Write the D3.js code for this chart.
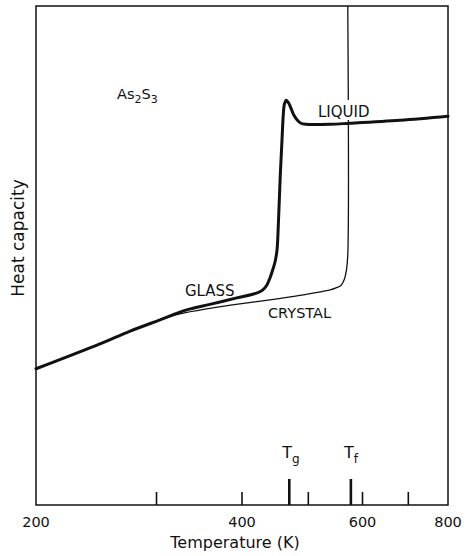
<!DOCTYPE html>
<html><head><meta charset="utf-8">
<script src="https://cdn.jsdelivr.net/npm/d3@7"></script>
<style>
body{margin:0;background:#fff}
svg{display:block}
text{font-family:"DejaVu Sans",sans-serif;fill:#111}
</style>
</head><body>
<svg id="c" width="467" height="556"></svg>
<script>
// Temperature (K), log axis
const xDomain = [200, 800];
const minorTicks = [300, 400, 500, 600, 700];
const tickLabels = [200, 400, 600, 800];
const markers = [{sub: "g", T: 469}, {sub: "f", T: 577}];

// Heat capacity (arbitrary units, 0-100)
const glassT  = [200, 248, 274, 303.5, 332, 359, 393, 421, 429, 435, 439.5, 442.5, 447, 450, 452, 455, 457.6, 459.6, 461.5, 464.3, 467.7, 471.7, 476.4, 482, 487.8, 496, 538, 575, 681, 800];
const glassCp = [27.3, 32.3, 34.8, 37.1, 39.1, 40.2, 41.5, 42.5, 43.1, 44.1, 45.5, 46.7, 48.7, 51.1, 56.1, 66.1, 73.1, 78.2, 80.4, 81.1, 80.6, 79.5, 78.1, 77.1, 76.5, 76.3, 76.3, 76.5, 77.1, 77.9];

const crystalT  = [200, 248, 274, 303.5, 324.7, 359, 397, 439.5, 486, 538, 548.8, 558, 564.7, 568.5, 571, 571];
const crystalCp = [27.3, 32.3, 34.8, 37.1, 38.3, 39.4, 40.3, 41.1, 42.0, 43.1, 43.5, 44.0, 45.3, 47.1, 50.1, 100];

const svg = d3.select("#c");
const L = 36, R = 448, T = 6, B = 505;
const x = d3.scaleLog().domain(xDomain).range([L, R]);
const y = d3.scaleLinear().domain([0, 100]).range([B, T]);

const line = d3.line().x(d => x(d[0])).y(d => y(d[1])).curve(d3.curveCatmullRom.alpha(0.5));

// frame
svg.append("rect").attr("x", L).attr("y", T).attr("width", R - L).attr("height", B - T)
  .attr("fill", "none").attr("stroke", "#111").attr("stroke-width", 1.5);

// minor ticks (inward)
svg.selectAll(".mt").data(minorTicks).join("line")
  .attr("x1", d => x(d)).attr("x2", d => x(d))
  .attr("y1", B).attr("y2", B - 13)
  .attr("stroke", "#111").attr("stroke-width", 1.6);

// tick labels
svg.selectAll(".tl").data(tickLabels).join("text")
  .attr("x", d => x(d)).attr("y", 527)
  .attr("text-anchor", "middle").attr("font-size", 14.5)
  .text(d => d);

// Tg / Tf markers
svg.selectAll(".mk").data(markers).join("line")
  .attr("x1", d => x(d.T)).attr("x2", d => x(d.T))
  .attr("y1", B).attr("y2", B - 26)
  .attr("stroke", "#111").attr("stroke-width", 2.6);
const mt = svg.selectAll(".mkt").data(markers).join("text")
  .attr("x", d => x(d.T) - 7).attr("y", 458).attr("font-size", 16);
mt.append("tspan").text("T");
mt.append("tspan").attr("dy", 5).attr("font-size", 12).text(d => d.sub);

// crystal curve (thin)
svg.append("path").datum(crystalT.map((t, i) => [t, crystalCp[i]]))
  .attr("d", line).attr("fill", "none").attr("stroke", "#111").attr("stroke-width", 1.3);

// LIQUID label with white knock-out
const liq = svg.append("text").attr("x", 318).attr("y", 117).attr("font-size", 15).text("LIQUID");
const bb = liq.node().getBBox();
svg.insert("rect", "text:last-of-type").attr("x", bb.x - 1).attr("y", bb.y - 3)
  .attr("width", bb.width + 2).attr("height", bb.height + 2).attr("fill", "#fff");
liq.raise();

// glass / liquid curve (thick)
svg.append("path").datum(glassT.map((t, i) => [t, glassCp[i]]))
  .attr("d", line).attr("fill", "none").attr("stroke", "#111").attr("stroke-width", 3)
  .attr("stroke-linejoin", "round").attr("stroke-linecap", "round");

// labels
svg.append("text").attr("x", 185).attr("y", 296).attr("font-size", 15).text("GLASS");
svg.append("text").attr("x", 268).attr("y", 318).attr("font-size", 14.5).text("CRYSTAL");
const as = svg.append("text").attr("x", 117).attr("y", 99).attr("font-size", 14.5);
as.append("tspan").text("As");
as.append("tspan").attr("dy", 4).attr("font-size", 11).text("2");
as.append("tspan").attr("dy", -4).text("S");
as.append("tspan").attr("dy", 4).attr("font-size", 11).text("3");

// axis titles
svg.append("text").attr("x", 235).attr("y", 548).attr("text-anchor", "middle").attr("font-size", 16)
  .text("Temperature (K)");
svg.append("text").attr("transform", "translate(24,238) rotate(-90)").attr("text-anchor", "middle")
  .attr("font-size", 17).text("Heat capacity");
</script>
</body></html>
